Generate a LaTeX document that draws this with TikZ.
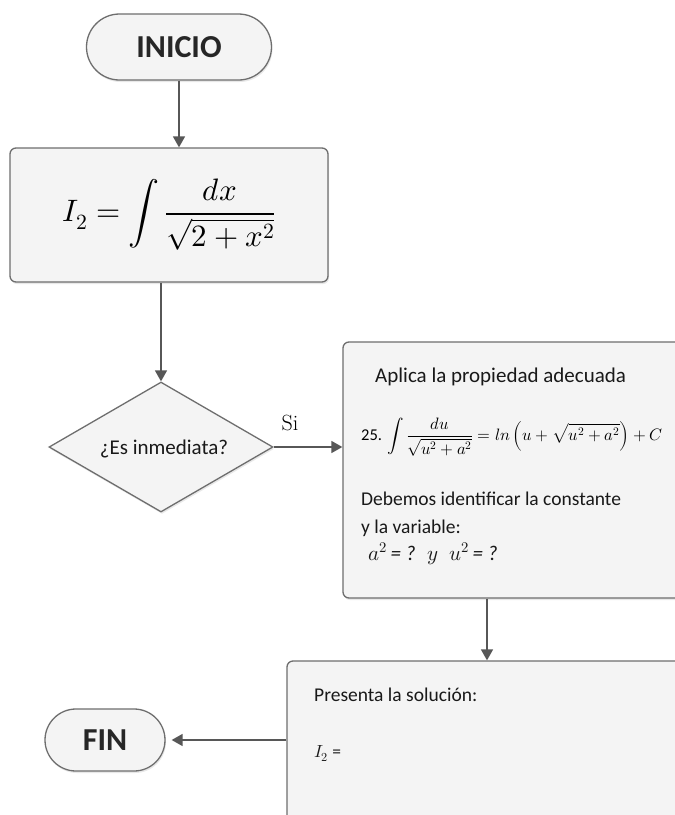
\documentclass[tikz,border=0pt]{standalone}
\usepackage{amsmath}
\usepackage{unicode-math}
\setmainfont{Carlito}
\setmathfont{Latin Modern Math}
\newfontfamily\serifsi{Latin Modern Roman}
\usetikzlibrary{shapes.geometric,arrows.meta,shadows}
\definecolor{boxfill}{HTML}{F4F4F4}
\definecolor{boxline}{HTML}{6E6E6E}
\definecolor{arrline}{HTML}{575757}
\tikzset{
  base/.style={draw=boxline, fill=boxfill, line width=1.3pt,
    drop shadow={opacity=0.18, shadow xshift=1pt, shadow yshift=-2pt}},
  term/.style={base, rounded corners=33pt, minimum width=185pt, minimum height=66pt,
    inner sep=0pt, font=\fontsize{32}{37}\selectfont\bfseries, text=black!85},
  proc/.style={base, rounded corners=6pt, inner sep=0pt},
  decis/.style={base, diamond, aspect=1.72, minimum width=224pt, minimum height=130pt,
    inner sep=0pt},
  flow/.style={draw=arrline, line width=1.5pt, -{Triangle[width=12pt,length=11pt]}},
  txt/.style={anchor=base west, inner sep=0pt, text=black!90},
}
\begin{document}
\begin{tikzpicture}[x=1pt,y=-1pt]
\useasboundingbox (0,0) rectangle (675,815);
\clip (0,0) rectangle (675,815);
\fill[white] (0,0) rectangle (675,815);

\node[term] (inicio) at (179,47) {INICIO};
\node[proc, minimum width=318pt, minimum height=134pt] (box1) at (169,215)
  {\fontsize{31}{37}\selectfont$\displaystyle I_2=\int\frac{dx}{\sqrt{2+x^2}}$};
\node[decis] (dec) at (161,447) {};
\node[inner sep=0pt, font=\fontsize{21}{25}\selectfont, text=black!90] (dectext) at (164,449) {¿Es inmediata?};
\node[proc, minimum width=360pt, minimum height=256pt] (box2) at (523,470) {};
\node[proc, minimum width=420pt, minimum height=200pt] (box3) at (497,761) {};
\node[term, minimum width=120pt, minimum height=62pt, rounded corners=31pt] (fin) at (105,740) {FIN};

% texts in box2
\node[txt, font=\fontsize{21}{25}\selectfont] (t1) at (375,382) {Aplica la propiedad adecuada};
\node[anchor=west, inner sep=0pt, font=\fontsize{16.5}{20}\selectfont] (t2) at (361,437)
  {25. $\displaystyle\int\frac{du}{\sqrt{u^2+a^2}}=ln\left(u+\sqrt{u^2+a^2}\right)+C$};
\node[txt, font=\fontsize{19.5}{23}\selectfont] (t3) at (361,505) {Debemos identificar la constante};
\node[txt, font=\fontsize{19.5}{23}\selectfont] (t4) at (361,533) {y la variable:};
\node[txt, font=\fontsize{21}{25}\selectfont] (t5) at (368,560) {$a^2$\,\textit{= ?} $\;y\;$ $u^2$\,\textit{= ?}};

% texts in box3
\node[txt, font=\fontsize{19.5}{23}\selectfont] (t6) at (314,701) {Presenta la solución:};
\node[txt, font=\fontsize{17.5}{21}\selectfont] (t7) at (314,757) {$I_2$ =};

% connectors
\coordinate (c3) at (487,0);
\draw[flow] (inicio.south) -- (inicio.south |- box1.north);
\draw[flow] (dec.north |- box1.south) -- (dec.north);
\draw[flow] (dec.east) -- (box2.west |- dec.east);
\node[font=\fontsize{22}{26}\selectfont\serifsi, inner sep=0pt] (silabel) at (290,423) {Si};
\draw[flow] (c3 |- box2.south) -- (c3 |- box3.north);
\draw[flow, shorten >=6pt] (box3.west |- fin.east) -- (fin.east);
\end{tikzpicture}
\end{document}
